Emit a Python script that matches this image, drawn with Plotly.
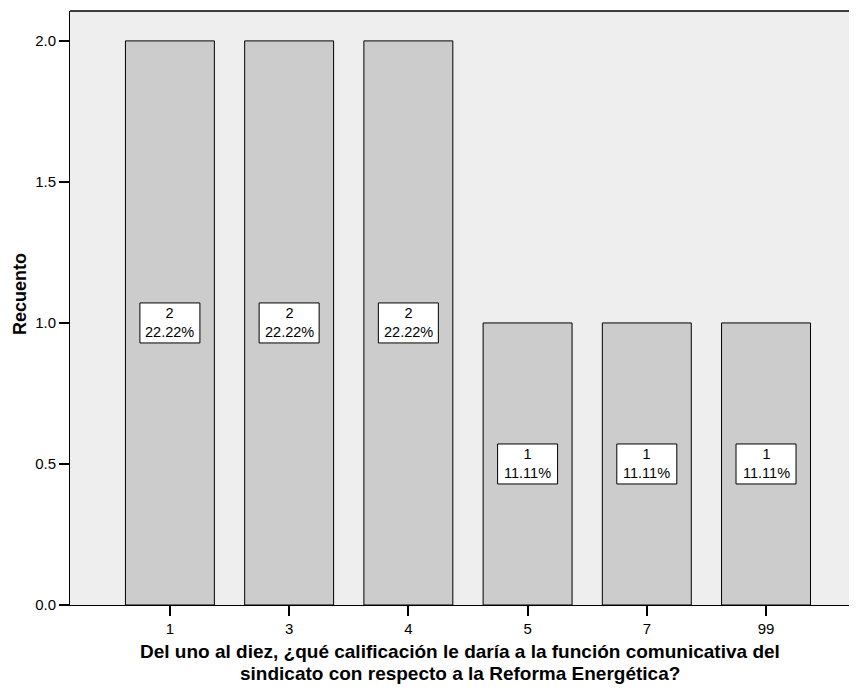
import plotly.graph_objects as go

categories = ["1", "3", "4", "5", "7", "99"]
counts = [2, 2, 2, 1, 1, 1]
ytick_vals = [0.0, 0.5, 1.0, 1.5, 2.0]
ytick_text = ["0.0", "0.5", "1.0", "1.5", "2.0"]
x_title_lines = ["Del uno al diez, ¿qué calificación le daría a la función comunicativa del",
                 "sindicato con respecto a la Reforma Energética?"]
y_title = "Recuento"

total = sum(counts)
FONT = "Arial, Liberation Sans, sans-serif"

# figure sized to fit inside the page (body has 8px default margin)
W, H = 841, 676
ML, MT, MB = 62, 3, 79
plot_w = W - ML
plot_h = H - MT - MB

fig = go.Figure()
fig.add_trace(go.Bar(
    x=list(range(len(categories))), y=counts,
    width=0.746,
    marker=dict(color="#CCCCCC", line=dict(color="#000000", width=1)),
    hoverinfo="skip",
))

for i, c in enumerate(counts):
    fig.add_shape(type="rect", xref="x", yref="y", xsizemode="pixel", ysizemode="pixel",
                  xanchor=i, yanchor=c / 2, x0=-30, x1=30, y0=-20, y1=20,
                  fillcolor="#FFFFFF", line=dict(color="#000000", width=1), layer="above")
    fig.add_annotation(x=i, y=c / 2, xref="x", yref="y",
                       text=f"{c}<br>{c / total * 100:.2f}%", showarrow=False,
                       align="center", borderpad=0,
                       font=dict(family=FONT, size=14.5, color="#000000"))

fig.add_shape(type="line", xref="paper", yref="paper", x0=0, x1=1, y0=1, y1=1,
              line=dict(color="#000000", width=1.5))

# axis titles
fig.add_annotation(xref="paper", yref="paper", x=0.5, y=-46.5 / plot_h, yanchor="middle",
                   text=x_title_lines[0], showarrow=False,
                   font=dict(family=FONT, size=19, color="#000000", weight="bold"))
fig.add_annotation(xref="paper", yref="paper", x=0.5, y=-68.5 / plot_h, yanchor="middle",
                   text=x_title_lines[1], showarrow=False,
                   font=dict(family=FONT, size=19, color="#000000", weight="bold"))
fig.add_annotation(xref="paper", yref="paper", x=-(ML - 12) / plot_w, y=(597 - 286) / plot_h,
                   xanchor="center", yanchor="middle", textangle=-90,
                   text=y_title, showarrow=False,
                   font=dict(family=FONT, size=18, color="#000000", weight="bold"))

fig.update_layout(
    width=W, height=H,
    margin=dict(l=ML, r=0, t=MT, b=MB, pad=0),
    paper_bgcolor="#FFFFFF", plot_bgcolor="#EEEEEE",
    showlegend=False,
    font=dict(family=FONT, color="#000000"),
)
fig.update_xaxes(
    range=[-0.838, 5.696],
    tickmode="array", tickvals=list(range(len(categories))), ticktext=categories,
    ticks="outside", ticklen=10, tickwidth=2, tickcolor="#000000",
    showline=True, linecolor="#000000", linewidth=1,
    showgrid=False, zeroline=False,
    tickfont=dict(family=FONT, size=15, color="#000000"),
)
fig.update_yaxes(
    range=[0, 2.106],
    tickmode="array", tickvals=ytick_vals, ticktext=ytick_text,
    ticks="outside", ticklen=10, tickwidth=2, tickcolor="#000000",
    showline=True, linecolor="#000000", linewidth=1,
    showgrid=False, zeroline=False,
    tickfont=dict(family=FONT, size=15, color="#000000"),
)

fig.write_html("out.html")
